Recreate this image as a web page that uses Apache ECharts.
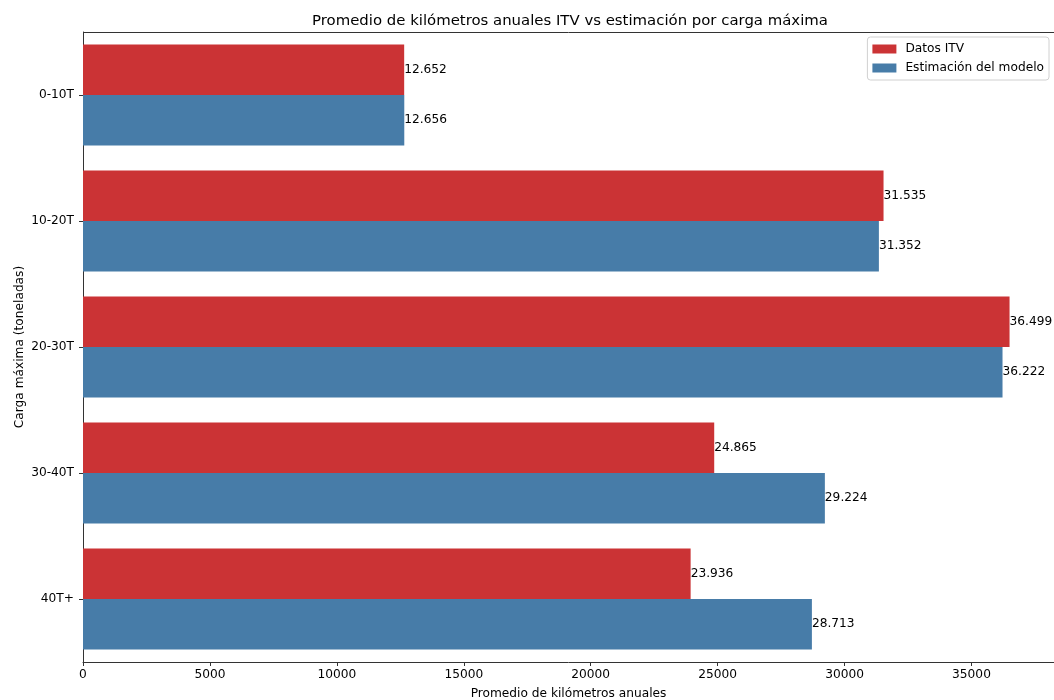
<!DOCTYPE html>
<html><head><meta charset="utf-8">
<script src="https://cdn.jsdelivr.net/npm/echarts@6/dist/echarts.min.js"></script>
<style>html,body{margin:0;padding:0;background:#fff}#c{width:1054px;height:700px}</style>
</head><body><div id="c"></div>
<script>
const categories = ['0-10T', '10-20T', '20-30T', '30-40T', '40T+'];
const datosITV = [12652, 31535, 36499, 24865, 23936];
const estimacion = [12656, 31352, 36222, 29224, 28713];
const xTicks = [0, 5000, 10000, 15000, 20000, 25000, 30000, 35000];

const FONT = 'DejaVu Sans';
const FS = 12.2;
const fmt = v => String(v).replace(/\B(?=(\d{3})+(?!\d))/g, '.');
const chart = echarts.init(document.getElementById('c'), null, {renderer: 'canvas'});
const labelOpt = {
  show: true, position: 'right', distance: 0,
  formatter: p => fmt(p.value), color: '#000', fontFamily: FONT, fontSize: FS
};
chart.setOption({
  animation: false,
  textStyle: {fontFamily: FONT},
  title: {
    text: 'Promedio de kilómetros anuales ITV vs estimación por carga máxima',
    left: 565, top: 9, textAlign: 'center',
    textStyle: {fontFamily: FONT, fontSize: 14.9, fontWeight: 'normal', color: '#000'}
  },
  legend: {
    orient: 'vertical', right: 5, top: 37,
    itemWidth: 24, itemHeight: 9, itemGap: 7,
    icon: 'rect',
    backgroundColor: '#fff', borderColor: '#d0d0d0', borderWidth: 1, borderRadius: 3,
    padding: [6, 5, 6, 5],
    textStyle: {fontFamily: FONT, fontSize: FS, color: '#000', padding: [0, 0, 0, 4]},
    data: ['Datos ITV', 'Estimación del modelo']
  },
  grid: {left: 83, right: 0, top: 32, bottom: 38, containLabel: false, outerBoundsMode: 'none'},
  xAxis: {
    type: 'value', min: 0, max: 38250, interval: 5000,
    name: 'Promedio de kilómetros anuales', nameLocation: 'middle', nameGap: 26,
    nameTextStyle: {fontFamily: FONT, fontSize: FS, color: '#000'},
    axisLine: {show: true, lineStyle: {color: '#333', width: 1}},
    axisTick: {show: true, length: 4, lineStyle: {color: '#333'}},
    axisLabel: {
      fontFamily: FONT, fontSize: FS, color: '#000', margin: 7,
      showMaxLabel: false,
      formatter: v => xTicks.includes(v) ? String(v) : ''
    },
    splitLine: {show: false}
  },
  yAxis: {
    type: 'category', data: categories, inverse: true,
    name: 'Carga máxima (toneladas)', nameLocation: 'middle', nameGap: 57,
    nameRotate: 90, nameMoveOverlap: false,
    nameTextStyle: {fontFamily: FONT, fontSize: FS, color: '#000'},
    axisLine: {show: true, lineStyle: {color: '#333', width: 1}},
    axisTick: {show: true, alignWithLabel: true, length: 4, lineStyle: {color: '#333'}},
    axisLabel: {fontFamily: FONT, fontSize: FS, color: '#000', margin: 9}
  },
  graphic: [{
    type: 'line', shape: {x1: 83, y1: 32.5, x2: 1054, y2: 32.5},
    style: {stroke: '#333', lineWidth: 1}, silent: true
  }],
  series: [
    {name: 'Datos ITV', type: 'bar', data: datosITV, barWidth: 50.4, barGap: '0%',
     itemStyle: {color: '#cb3335'}, label: labelOpt},
    {name: 'Estimación del modelo', type: 'bar', data: estimacion, barWidth: 50.4, barGap: '0%',
     itemStyle: {color: '#477ca8'}, label: labelOpt}
  ]
});
</script></body></html>
